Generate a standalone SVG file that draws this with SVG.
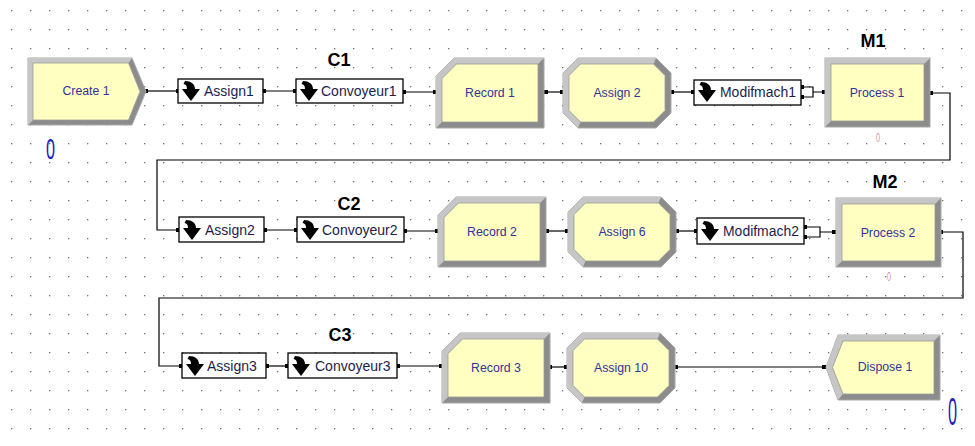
<svg xmlns="http://www.w3.org/2000/svg" width="975" height="446" viewBox="0 0 975 446">
<defs>
<style>
.lbl{font-family:"Liberation Sans",Arial,sans-serif;font-size:12.3px;fill:#333399;text-anchor:middle}
.sm{font-family:"Liberation Sans",Arial,sans-serif;font-size:14px;fill:#1c1c4c}
.hd{font-family:"Liberation Sans",Arial,sans-serif;font-size:18px;font-weight:bold;fill:#000;text-anchor:middle}
.box{fill:#fff;stroke:#000;stroke-width:1.3}
.wire{fill:none;stroke:#000;stroke-width:1.2}
.dark{fill:#8c8c8c;stroke:#a8a8a8;stroke-width:1}
.light{fill:#c6c6c6}
.face{fill:#ffffc2;stroke:#9a9a9a;stroke-width:0.8}
.cnt{font-family:"Liberation Sans",Arial,sans-serif;fill:#2020bb}
.cntp{font-family:"Liberation Sans",Arial,sans-serif;font-size:12px;fill:#d89090}
.pt{fill:#000}
</style>
<pattern id="dots" x="11" y="10" width="19" height="19" patternUnits="userSpaceOnUse"><rect width="1.3" height="1.3" fill="#707070"/></pattern>
<g id="rec">
<polygon class="dark" points="18,0 108,0 108,70 0,70 0,18"/>
<polygon class="light" points="0,70 0,18 18,0 108,0 102,6 20.5,6 6,20.5 6,64"/>
<polygon class="face" points="20.5,6 102,6 102,64 6,64 6,20.5"/>
</g>
<g id="asg">
<polygon class="dark" points="15,0 93,0 108,15 108,55 93,70 15,70 0,55 0,15"/>
<polygon class="light" points="15,70 0,55 0,15 15,0 93,0 90.5,6 17.5,6 6,17.5 6,52.5 17.5,64"/>
<polygon class="face" points="17.5,6 90.5,6 102,17.5 102,52.5 90.5,64 17.5,64 6,52.5 6,17.5"/>
</g>
<g id="proc">
<rect class="dark" x="0" y="0" width="105" height="69"/>
<polygon class="light" points="0,69 0,0 105,0 99,6 6,6 6,63"/>
<rect class="face" x="6" y="6" width="93" height="57"/>
</g>
<path id="ico" d="M3,0 C9,0 13,3 13,8 L18,8 L9,20 L0,8 L5,8 C5,5 4,3.5 1.5,3 Z" fill="#000"/>
<rect id="sq" x="-2" y="-2" width="4" height="4" class="pt"/>
</defs>
<rect width="975" height="446" fill="#fff"/>
<rect width="975" height="446" fill="url(#dots)"/>

<g id="connectors">
<path class="wire" d="M146,91 H178"/>
<path class="wire" d="M263,91 H296"/>
<path class="wire" d="M403,92 H436"/>
<path class="wire" d="M544,92 H563"/>
<path class="wire" d="M671,92 H694"/>
<path class="wire" d="M801,87 H813 V97 H801 M813,92 H825"/>
<path class="wire" d="M930,93 H950 V160 H157 V230 H179"/>
<path class="wire" d="M264,230 H297"/>
<path class="wire" d="M404,231 H438"/>
<path class="wire" d="M546,231 H568"/>
<path class="wire" d="M676,231 H697"/>
<path class="wire" d="M804,227 H820 V237 H804 M820,232 H836"/>
<path class="wire" d="M940,232 H963 V298 H159 V366 H182"/>
<path class="wire" d="M266,366 H288"/>
<path class="wire" d="M397,366 H442"/>
<path class="wire" d="M549,367 H567"/>
<path class="wire" d="M675,367 H826"/>
<use href="#sq" x="146" y="91"/><use href="#sq" x="178" y="91"/>
<use href="#sq" x="264" y="91"/><use href="#sq" x="295" y="91"/>
<use href="#sq" x="404" y="92"/><use href="#sq" x="435" y="92"/>
<use href="#sq" x="546" y="92"/><use href="#sq" x="562" y="92"/>
<use href="#sq" x="672" y="92"/><use href="#sq" x="693" y="92"/>
<use href="#sq" x="802" y="87"/><use href="#sq" x="802" y="97"/><use href="#sq" x="824" y="92"/>
<use href="#sq" x="931" y="93"/><use href="#sq" x="178" y="230"/>
<use href="#sq" x="265" y="230"/><use href="#sq" x="296" y="230"/>
<use href="#sq" x="405" y="231"/><use href="#sq" x="437" y="231"/>
<use href="#sq" x="547" y="231"/><use href="#sq" x="567" y="231"/>
<use href="#sq" x="677" y="231"/><use href="#sq" x="696" y="231"/>
<use href="#sq" x="805" y="227"/><use href="#sq" x="805" y="237"/><use href="#sq" x="834" y="232"/>
<use href="#sq" x="941" y="232"/><use href="#sq" x="181" y="366"/>
<use href="#sq" x="267" y="366"/><use href="#sq" x="287" y="366"/>
<use href="#sq" x="398" y="366"/><use href="#sq" x="441" y="366"/>
<use href="#sq" x="550" y="367"/><use href="#sq" x="566" y="367"/>
<use href="#sq" x="676" y="367"/><use href="#sq" x="824" y="367"/>
</g>

<g id="create1">
<polygon class="dark" points="28,58 132,58 146,91.5 132,125 28,125"/>
<polygon class="light" points="28,125 28,58 132,58 128.5,63 33,63 33,120"/>
<polygon class="face" points="33,63 128.5,63 140,91.5 128.5,120 33,120"/>
<text class="lbl" x="86" y="95">Create 1</text>
<text class="cnt" x="46" y="159" font-size="30" textLength="9" lengthAdjust="spacingAndGlyphs">0</text>
</g>

<g id="assign1"><rect class="box" x="178" y="79" width="85" height="24"/><use href="#ico" x="182" y="81"/><text class="sm" x="204" y="96">Assign1</text></g>
<g id="convoyeur1"><rect class="box" x="296" y="79" width="107" height="24"/><use href="#ico" x="300" y="81"/><text class="sm" x="321" y="96">Convoyeur1</text></g>
<text class="hd" x="339" y="66">C1</text>
<g id="record1"><use href="#rec" x="436" y="58"/><text class="lbl" x="490" y="97">Record 1</text></g>
<g id="assign2big"><use href="#asg" x="563" y="58"/><text class="lbl" x="617" y="97">Assign 2</text></g>
<g id="modifmach1"><rect class="box" x="694" y="80" width="107" height="25"/><use href="#ico" x="698" y="82"/><text class="sm" x="720" y="97" font-size="13" textLength="76" lengthAdjust="spacingAndGlyphs">Modifmach1</text></g>
<g id="process1"><use href="#proc" x="825" y="58"/><text class="lbl" x="877" y="97">Process 1</text>
<text class="cntp" x="876" y="142" textLength="4" lengthAdjust="spacingAndGlyphs">0</text></g>
<text class="hd" x="873" y="47">M1</text>

<g id="assign2"><rect class="box" x="179" y="217" width="85" height="25"/><use href="#ico" x="183" y="220"/><text class="sm" x="205" y="235">Assign2</text></g>
<g id="convoyeur2"><rect class="box" x="297" y="217" width="107" height="25"/><use href="#ico" x="301" y="220"/><text class="sm" x="322" y="235">Convoyeur2</text></g>
<text class="hd" x="349" y="210">C2</text>
<g id="record2"><use href="#rec" x="438" y="197"/><text class="lbl" x="492" y="236">Record 2</text></g>
<g id="assign6"><use href="#asg" x="568" y="197"/><text class="lbl" x="622" y="236">Assign 6</text></g>
<g id="modifmach2"><rect class="box" x="697" y="218" width="107" height="26"/><use href="#ico" x="701" y="221"/><text class="sm" x="723" y="236" font-size="13" textLength="76" lengthAdjust="spacingAndGlyphs">Modifmach2</text></g>
<g id="process2"><use href="#proc" x="836" y="198"/><text class="lbl" x="888" y="237">Process 2</text>
<text class="cntp" x="887" y="281" textLength="4" lengthAdjust="spacingAndGlyphs">0</text></g>
<text class="hd" x="885" y="188">M2</text>

<g id="assign3"><rect class="box" x="182" y="353" width="84" height="25"/><use href="#ico" x="186" y="356"/><text class="sm" x="207" y="371">Assign3</text></g>
<g id="convoyeur3"><rect class="box" x="288" y="353" width="109" height="25"/><use href="#ico" x="292" y="356"/><text class="sm" x="315" y="371">Convoyeur3</text></g>
<text class="hd" x="340" y="341">C3</text>
<g id="record3"><use href="#rec" x="442" y="333"/><text class="lbl" x="496" y="372">Record 3</text></g>
<g id="assign10"><use href="#asg" x="567" y="333"/><text class="lbl" x="621" y="372">Assign 10</text></g>
<g id="dispose1">
<polygon class="dark" points="838,335 940,335 940,400 838,400 826,367.5"/>
<polygon class="light" points="838,400 826,367.5 838,335 940,335 934,341 843,341 832.5,367.5 843,394"/>
<polygon class="face" points="843,341 934,341 934,394 843,394 832.5,367.5"/>
<text class="lbl" x="885" y="371">Dispose 1</text>
<text class="cnt" x="948" y="425" font-size="39" textLength="9" lengthAdjust="spacingAndGlyphs">0</text>
</g>
</svg>
